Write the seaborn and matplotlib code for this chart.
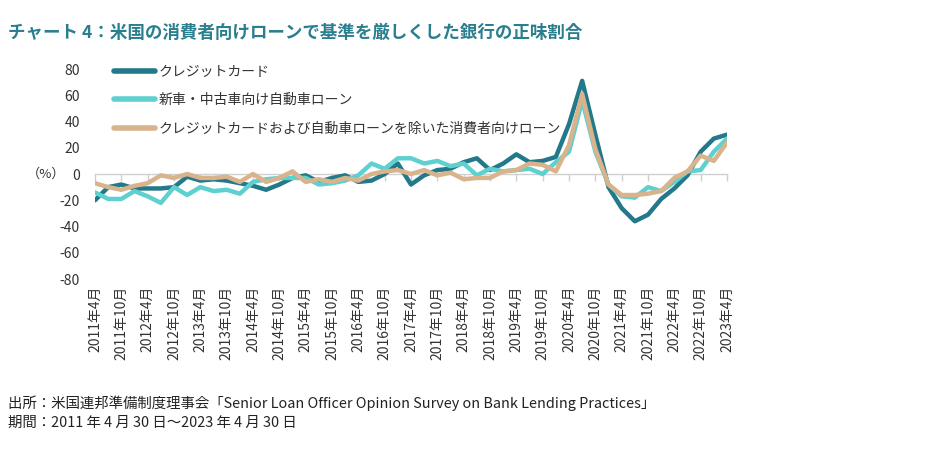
import pandas as pd
import matplotlib
matplotlib.use("Agg")
import matplotlib.pyplot as plt
import seaborn as sns

# quarterly survey values, April 2011 .. April 2023
credit_card = [-20, -10, -8, -11, -11, -11, -10, -2, -5, -4,
               -5, -7, -9, -12, -8, -3, -1, -6, -3, -1,
               -6, -5, 0, 8, -8, -1, 3, 4, 9, 12,
               3, 8, 15, 9, 10, 13, 38, 71, 30, -10,
               -26, -36, -31, -19, -11, -1, 17, 27, 30]
auto_loans = [-14, -19, -19, -13, -17, -22, -10, -16, -10, -13,
              -12, -15, -6, -4, -3, -3, -3, -8, -7, -5,
              -1, 8, 4, 12, 12, 8, 10, 6, 8, -1,
              4, 2, 3, 4, 0, 9, 17, 56, 17, -8,
              -17, -18, -10, -13, -6, 2, 3, 17, 27]
other_consumer = [-7, -10, -12, -9, -7, -1, -3, 0, -3, -3,
                  -2, -6, 0, -6, -3, 2, -6, -4, -6, -3,
                  -5, 0, 2, 3, 0, 3, -1, 1, -4, -3,
                  -3, 2, 3, 8, 7, 2, 22, 61, 19, -8,
                  -16, -16, -15, -13, -3, 2, 14, 10, 24]

series_names = ["クレジットカード",
                "新車・中古車向け自動車ローン",
                "クレジットカードおよび自動車ローンを除いた消費者向けローン"]
colors = ["#23798A", "#5FD0D0", "#D8B38C"]

years = list(range(2011, 2024))
tick_labels = []
for y in years:
    tick_labels.append(f"{y}年4月")
    if y < 2023:
        tick_labels.append(f"{y}年10月")

n = len(credit_card)
df = pd.DataFrame({
    "q": list(range(n)) * 3,
    "value": credit_card + auto_loans + other_consumer,
    "series": [series_names[0]] * n + [series_names[1]] * n + [series_names[2]] * n,
})

sns.set_style("white")
plt.rcParams["font.family"] = ["Noto Sans CJK JP", "DejaVu Sans"]
plt.rcParams["axes.unicode_minus"] = False

fig = plt.figure(figsize=(9.26, 4.58), dpi=100)
ax = fig.add_axes([0.1026, 0.3908, 0.6825, 0.4585])

sns.lineplot(data=df, x="q", y="value", hue="series", hue_order=series_names,
             palette=colors, linewidth=3.2, ax=ax, legend=True)

ax.set_xlim(0, n - 1)
ax.set_ylim(-80, 80)
ax.set_yticks(range(-80, 81, 20))
ax.tick_params(axis="y", length=0, labelsize=10, labelcolor="#333333", pad=11)
ax.set_xticks(range(0, n, 2))
ax.set_xticklabels(tick_labels, rotation=90, fontsize=10, color="#333333")
ax.tick_params(axis="x", length=0, pad=5)
ax.set_xlabel("")
ax.set_ylabel("")
for s in ax.spines.values():
    s.set_visible(False)

# zero line with small tick marks
zero = ax.secondary_xaxis(0.5)
zero.set_alignment("bottom")
zero.set_xticks(range(0, n, 2))
zero.set_xticklabels([])
zero.tick_params(axis="x", direction="out", length=5, color="#D0D0D0", width=1)
zero.spines["bottom"].set_color("#D0D0D0")
zero.spines["bottom"].set_linewidth(1)

leg = ax.legend(loc="upper left", bbox_to_anchor=(0.01, 1.08), frameon=False,
                fontsize=10, handlelength=3.0, labelspacing=1.05, handletextpad=0.25)
for line in leg.get_lines():
    line.set_linewidth(4)
    line.set_solid_capstyle("round")
for t in leg.get_texts():
    t.set_color("#333333")

fig.text(46 / 926, 1 - 174 / 458, "（%）", ha="center", va="center", fontsize=9.5, color="#333333")

fig.text(8 / 926, 1 - 33 / 458, "チャート 4：米国の消費者向けローンで基準を厳しくした銀行の正味割合",
         ha="left", va="center", fontsize=12.6, fontweight="bold", color="#2A7F8E")

fig.text(8 / 926, 1 - 403 / 458,
         "出所：米国連邦準備制度理事会「Senior Loan Officer Opinion Survey on Bank Lending Practices」",
         ha="left", va="center", fontsize=10.4, color="#222222")
fig.text(8 / 926, 1 - 423 / 458, "期間：2011 年 4 月 30 日～2023 年 4 月 30 日",
         ha="left", va="center", fontsize=10.4, color="#222222")

fig.savefig("out.png", dpi=100)
